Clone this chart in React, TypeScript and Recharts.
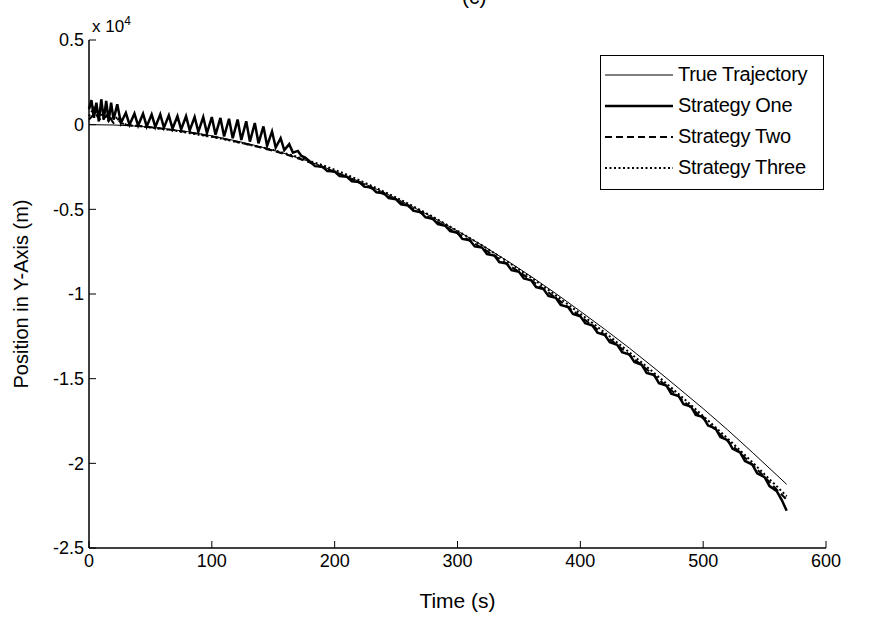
import React from 'react';
import { LineChart, Line, XAxis, YAxis, Legend } from 'recharts';

// time (s) / position (m) pairs
const trueTrajectory: [number, number][] = [
  [0, 0], [20, -20], [40, -90], [60, -220], [80, -410], [100, -660], [120, -960],
  [140, -1310], [160, -1720], [180, -2190], [200, -2750], [220, -3350], [240, -4000],
  [260, -4720], [280, -5480], [300, -6280], [320, -7120], [340, -8020], [360, -8970],
  [380, -9970], [400, -11020], [420, -12090], [440, -13200], [460, -14360], [480, -15560],
  [500, -16770], [520, -18030], [540, -19350], [560, -20700], [568, -21240],
];

const strategyOne: [number, number][] = [
  [0, 900], [2, 1450], [4, 400], [6, 1300], [8, 200], [10, 1500], [12, 300], [14, 1400],
  [16, 200], [18, 1300], [20, 300], [23, 1200], [26, 100],
  [30, 700], [33, 0], [37, 650], [40, -50], [44, 650], [47, -100], [51, 600], [54, -130],
  [58, 600], [61, -180], [65, 550], [68, -230], [72, 500], [75, -280], [79, 500], [82, -340],
  [86, 450], [89, -420], [93, 450], [96, -500],
  [100, 450], [103, -600], [107, 400], [110, -700], [114, 350], [117, -800], [121, 300],
  [124, -900], [128, 200], [131, -1000], [135, 100], [138, -1100], [142, -100], [145, -1250],
  [149, -400], [152, -1350], [156, -800], [159, -1500], [163, -1150], [166, -1650],
  [170, -1550], [173, -1850], [176, -1950],
  [180, -2190], [184, -2450], [190, -2480], [194, -2740], [200, -2770], [204, -3040],
  [210, -3075], [214, -3345], [220, -3380], [224, -3660], [230, -3710], [234, -3990],
  [240, -4045], [244, -4335], [250, -4410], [254, -4700], [260, -4780], [264, -5080],
  [270, -5170], [274, -5470], [280, -5560], [284, -5870], [290, -5970], [294, -6280],
  [300, -6380], [304, -6750], [310, -6820], [314, -7190], [320, -7260], [324, -7640],
  [330, -7730], [334, -8110], [340, -8200], [344, -8590], [350, -8690], [354, -9080],
  [360, -9190], [364, -9590], [370, -9710], [374, -10110], [380, -10230], [384, -10640],
  [390, -10770], [394, -11180], [400, -11320], [404, -11730], [410, -11870], [414, -12290],
  [420, -12430], [424, -12850], [430, -13000], [434, -13430], [440, -13580], [444, -14010],
  [450, -14180], [454, -14660], [460, -14780], [464, -15270], [470, -15400], [474, -15890],
  [480, -16020], [484, -16510], [490, -16640], [494, -17140], [500, -17270], [504, -17770],
  [510, -17940], [514, -18440], [520, -18630], [524, -19140], [530, -19350], [534, -19860],
  [540, -20070], [544, -20590], [550, -20820], [554, -21340], [560, -21650], [564, -22170],
  [568, -22800],
];

const strategyTwo: [number, number][] = [
  [0, 300], [5, 700], [10, 200], [15, 600], [20, 100], [25, 400], [30, 0], [40, -60],
  [50, -150], [60, -240], [70, -330], [80, -440], [90, -560], [100, -700], [110, -840],
  [120, -1010], [130, -1170], [140, -1350], [150, -1540], [160, -1750], [170, -1980],
  [180, -2240], [190, -2515], [200, -2810], [210, -3110], [220, -3430], [230, -3760],
  [240, -4100], [250, -4450], [260, -4820], [270, -5200], [280, -5590], [290, -6000],
  [300, -6420], [310, -6850], [320, -7280], [330, -7740], [340, -8210], [350, -8690],
  [360, -9190], [370, -9700], [380, -10230], [390, -10770], [400, -11320], [410, -11870],
  [420, -12430], [430, -13010], [440, -13600], [450, -14200], [460, -14810], [470, -15430],
  [480, -16060], [490, -16700], [500, -17360], [510, -18020], [520, -18690], [530, -19380],
  [540, -20080], [550, -20800], [560, -21560], [568, -22150],
];

const strategyThree: [number, number][] = [
  [0, 500], [4, 1000], [8, 300], [12, 900], [16, 200], [20, 600], [26, 100], [32, -40],
  [40, -90], [50, -170], [60, -260], [70, -360], [80, -470], [90, -600], [100, -720],
  [110, -860], [120, -1020], [130, -1180], [140, -1330], [150, -1500], [160, -1700],
  [170, -1910], [180, -2150], [190, -2390], [200, -2660], [210, -2960], [220, -3280],
  [230, -3610], [240, -3950], [250, -4300], [260, -4670], [270, -5050], [280, -5440],
  [290, -5850], [300, -6270], [310, -6700], [320, -7130], [330, -7590], [340, -8060],
  [350, -8540], [360, -9040], [370, -9550], [380, -10080], [390, -10620], [400, -11170],
  [410, -11720], [420, -12280], [430, -12860], [440, -13450], [450, -14050], [460, -14660],
  [470, -15280], [480, -15910], [490, -16550], [500, -17210], [510, -17870], [520, -18540],
  [530, -19230], [540, -19930], [550, -20650], [560, -21360], [568, -21950],
];

const xTicks = [0, 100, 200, 300, 400, 500, 600];
const yTicks = [-25000, -20000, -15000, -10000, -5000, 0, 5000];

const seriesNames = ['True Trajectory', 'Strategy One', 'Strategy Two', 'Strategy Three'];

const toPoints = (arr: [number, number][]) => arr.map(([t, y]) => ({ t, y }));

const FONT = '"Liberation Sans", Arial, Helvetica, sans-serif';
const NARROW = '"Liberation Sans Narrow", "Liberation Sans", Arial, sans-serif';

const lineStyles = [
  { width: 1, dash: undefined },
  { width: 2.5, dash: undefined },
  { width: 2, dash: '7 4' },
  { width: 2, dash: '2 2.5' },
];

const LegendBox = () => (
  <div style={{ border: '1px solid #000', background: '#fff', width: 224, height: 135, boxSizing: 'border-box' }}>
    {seriesNames.map((name, i) => (
      <div key={name} style={{ display: 'flex', alignItems: 'center', height: 31, marginTop: i === 0 ? 3 : 0 }}>
        <svg width={76} height={10} style={{ flex: 'none' }}>
          <line x1={4} x2={72} y1={5} y2={5} stroke="#000"
            strokeWidth={lineStyles[i].width} strokeDasharray={lineStyles[i].dash} />
        </svg>
        <span style={{ fontFamily: FONT, fontSize: 20, color: '#000', marginLeft: 1, letterSpacing: -0.3 }}>{name}</span>
      </div>
    ))}
  </div>
);

export default function App() {
  return (
    <div style={{ position: 'absolute', left: 0, top: 0, width: 880, height: 624, background: '#fff', overflow: 'hidden' }}>
      <div style={{ position: 'absolute', left: 462, top: -15, fontFamily: FONT, fontSize: 21 }}>(c)</div>
      <div style={{ position: 'absolute', left: 92, top: 14, fontFamily: NARROW, fontSize: 17, color: '#000' }}>
        x 10<sup style={{ fontSize: 12 }}>4</sup>
      </div>
      <LineChart width={880} height={624} margin={{ top: 40, right: 54, bottom: 0, left: 0 }}>
        <XAxis dataKey="t" type="number" domain={[0, 600]} ticks={xTicks} height={76}
          tickSize={-7} tickMargin={13} axisLine={{ stroke: '#000', strokeWidth: 1.5 }}
          tickLine={{ stroke: '#000' }}
          tick={{ fill: '#000', fontSize: 18, fontFamily: NARROW }}
          label={{ value: 'Time (s)', position: 'insideBottom', offset: 16, fill: '#000', fontSize: 21, fontFamily: NARROW }} />
        <XAxis xAxisId="top" orientation="top" type="number" domain={[0, 600]} ticks={xTicks} height={0}
          tickSize={-7} tick={false} axisLine={{ stroke: '#000' }} tickLine={{ stroke: '#000' }} />
        <YAxis type="number" domain={[-25000, 5000]} ticks={yTicks} width={89}
          tickSize={-7} tickMargin={12} axisLine={{ stroke: '#000', strokeWidth: 1.5 }}
          tickLine={{ stroke: '#000' }}
          tickFormatter={(v: number) => String(v / 10000)}
          tick={{ fill: '#000', fontSize: 18, fontFamily: NARROW }}
          label={{ value: 'Position in Y-Axis (m)', angle: -90, position: 'insideLeft', offset: 21,
            style: { textAnchor: 'middle' }, fill: '#000', fontSize: 20, fontFamily: FONT }} />
        <YAxis yAxisId="right" orientation="right" type="number" domain={[-25000, 5000]} ticks={yTicks}
          width={0} tickSize={-7} tick={false} axisLine={{ stroke: '#000' }} tickLine={{ stroke: '#000' }} />
        <Legend layout="vertical" align="center" verticalAlign="middle" content={() => <LegendBox />}
          wrapperStyle={{ top: 55, left: 600, width: 224, height: 135 }} />
        <Line data={toPoints(trueTrajectory)} dataKey="y" name={seriesNames[0]} stroke="#000" strokeWidth={1}
          dot={false} type="linear" isAnimationActive={false} />
        <Line data={toPoints(strategyOne)} dataKey="y" name={seriesNames[1]} stroke="#000" strokeWidth={2.5}
          dot={false} type="linear" isAnimationActive={false} />
        <Line data={toPoints(strategyTwo)} dataKey="y" name={seriesNames[2]} stroke="#000" strokeWidth={2}
          strokeDasharray="7 4" dot={false} type="linear" isAnimationActive={false} />
        <Line data={toPoints(strategyThree)} dataKey="y" name={seriesNames[3]} stroke="#000" strokeWidth={2}
          strokeDasharray="2 2.5" dot={false} type="linear" isAnimationActive={false} />
      </LineChart>
    </div>
  );
}
